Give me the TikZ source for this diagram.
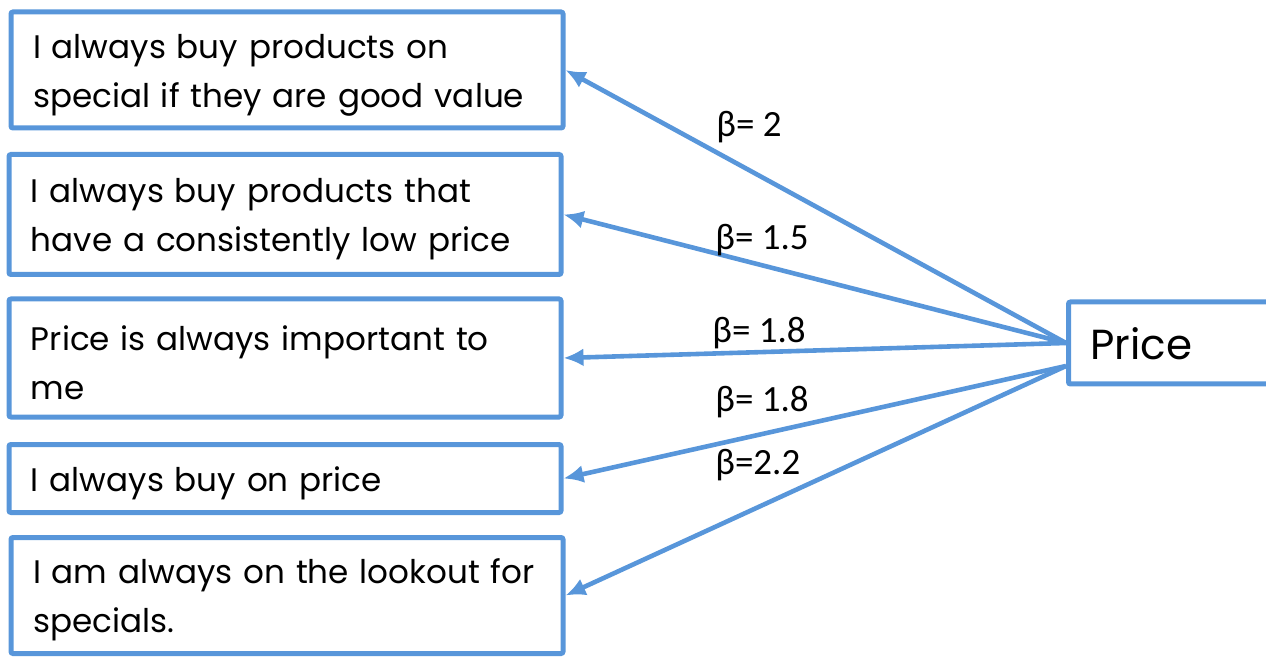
\documentclass[tikz,border=0pt]{standalone}
\usepackage{fontspec}
\setmainfont{Poppins}
\newfontfamily\labelfont{Carlito}
\usetikzlibrary{arrows.meta}
\definecolor{boxblue}{RGB}{88,150,218}
\tikzset{
    itembox/.style={draw=boxblue,line width=2.5pt,rounded corners=1pt,
        minimum width=276pt,text width=254pt,inner xsep=11pt,align=left,
        font=\fontsize{16.3}{24.5}\selectfont,
        execute at begin node={\rule{0pt}{17pt}}},
    link/.style={draw=boxblue,line width=2.3pt,-{Latex[length=10pt,width=9pt]}},
    beta/.style={anchor=west,inner sep=0pt,font=\labelfont\fontsize{18.5}{22}\selectfont}
}
\begin{document}
\begin{tikzpicture}[x=0.5pt,y=-0.5pt]
        \useasboundingbox (0,0) rectangle (1266,658);
        %% Items
        \node[itembox,minimum height=58pt] (b1) at (287,70) {I always buy products on\\special if they are good value};
        \node[itembox,minimum height=60pt] (b2) at (285,214.5) {I always buy products that\\have a consistently low price};
        \node[itembox,minimum height=59pt] (b3) at (285,358) {Price is always important to\\me};
        \node[itembox,minimum height=34pt] (b4) at (285,478.5) {I always buy on price};
        \node[itembox,minimum height=58pt] (b5) at (287,595.5) {I am always on the lookout for\\specials.};
        \node[itembox,minimum width=120pt,text width=98pt,minimum height=41pt,anchor=west,
            font=\fontsize{21}{24}\selectfont] (price) at (1066,343) {Price};
        \coordinate (pricelow) at ([yshift=-11.5pt]price.west);
        %% Links
        \draw[link] (price.west) -- (b1.east);
        \draw[link] (price.west) -- (b2.east);
        \draw[link] (price.west) -- (b3.east);
        \draw[link] (pricelow) -- (b4.east);
        \draw[link] (pricelow) -- (b5.east);
        %% Labels
        \node[beta] (l1) at (716,127) {β= 2};
        \node[beta] (l2) at (715,240) {β= 1.5};
        \node[beta] (l3) at (712,333) {β= 1.8};
        \node[beta] (l4) at (715,402) {β= 1.8};
        \node[beta] (l5) at (715,465) {β=2.2};
    \end{tikzpicture}
\end{document}
